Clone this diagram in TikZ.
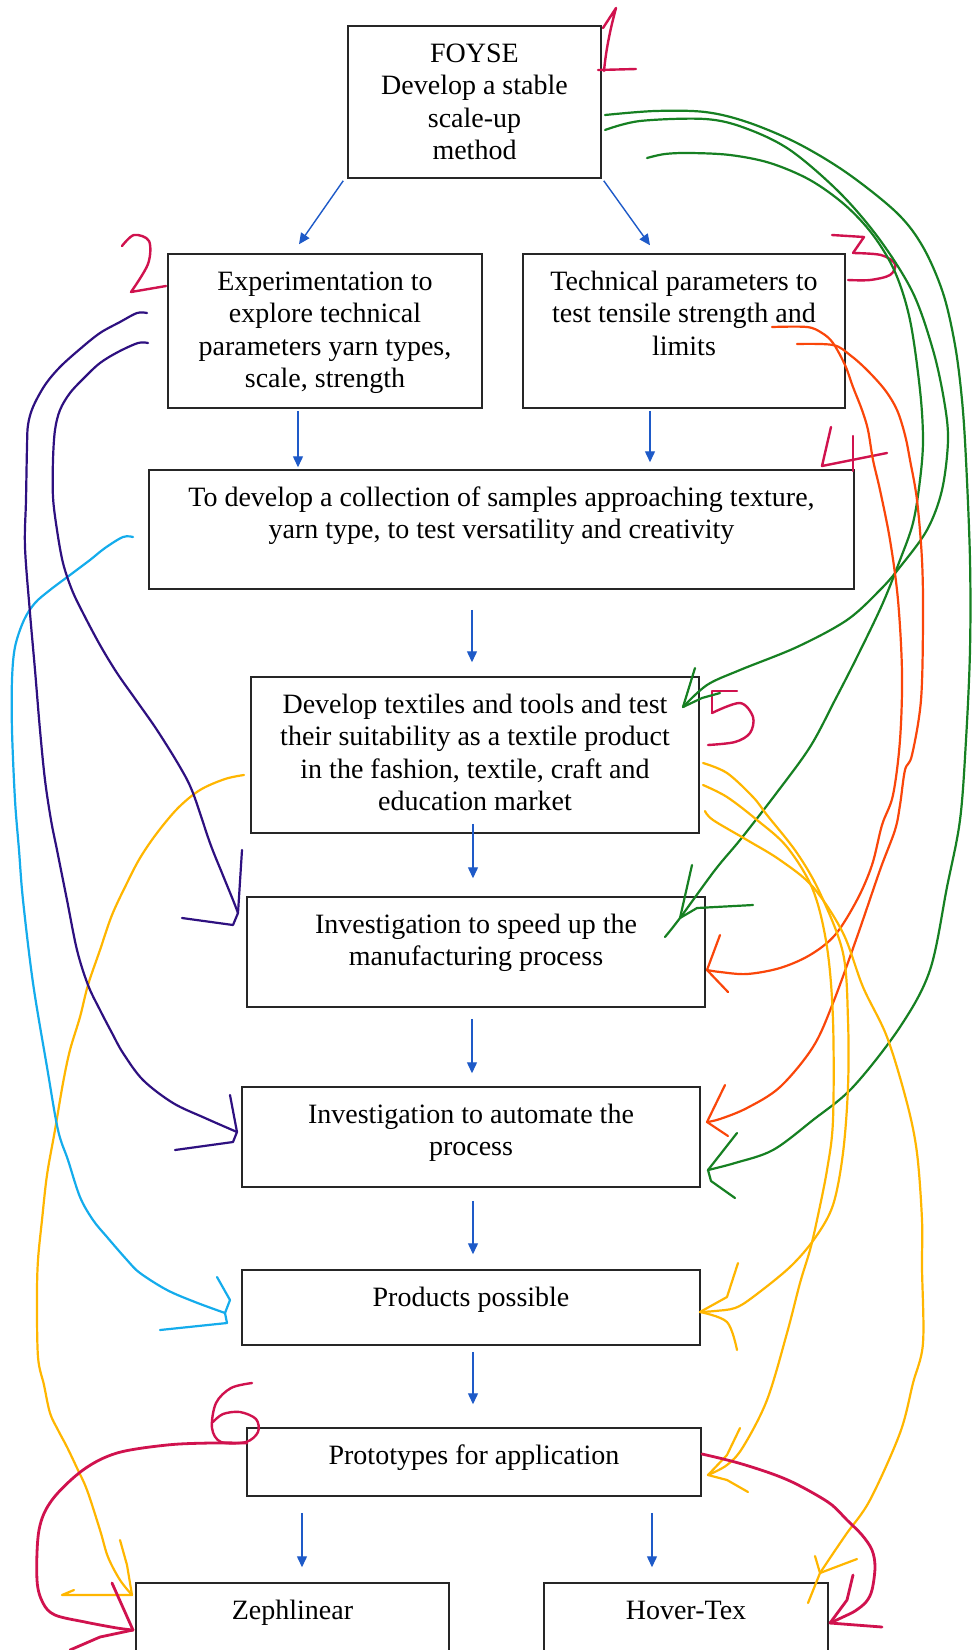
\documentclass[tikz,border=0pt]{standalone}
\usepackage{fontspec}
\setmainfont{Liberation Serif}
\usetikzlibrary{arrows.meta,calc}

\definecolor{flowblue}{RGB}{30,90,200}
\definecolor{inkred}{RGB}{208,18,78}
\definecolor{inkgreen}{RGB}{22,128,34}
\definecolor{inkorange}{RGB}{250,70,10}
\definecolor{inkamber}{RGB}{255,182,0}
\definecolor{inkcyan}{RGB}{20,172,236}
\definecolor{inkviolet}{RGB}{46,16,128}

% box text: width, height, lines (top aligned)
\newcommand{\boxtext}[3]{\parbox[c][#2][t]{#1}{\centering\rule{0pt}{18pt}#3}}

\begin{document}
\begin{tikzpicture}[x=0.5pt,y=-0.5pt,
  box/.style={draw=black!85,line width=0.75pt,inner sep=0pt,
    font=\fontsize{14}{16.25}\selectfont},
  bluearr/.style={draw=flowblue,line width=0.7pt,-{Triangle[length=5.5pt,width=5pt]}},
  hand/.style={line width=1.1pt,line cap=round,line join=round},
  handthick/.style={line width=1.4pt,line cap=round,line join=round},
  curve/.style={smooth,tension=0.55}]

\fill[white] (0,0) rectangle (974,1650);
\clip (0,0) rectangle (974,1650);

% ---------- flow boxes ----------
\node[box] (b1) at (474.5,102) {\boxtext{126.5pt}{76pt}{FOYSE\\Develop a stable\\scale-up\\method}};
\node[box] (b2) at (325,331) {\boxtext{157pt}{77pt}{Experimentation to\\explore technical\\parameters yarn types,\\scale, strength}};
\node[box] (b3) at (684,331) {\boxtext{161pt}{77pt}{Technical parameters to\\test tensile strength and\\limits}};
\node[box] (b4) at (501.5,529.5) {\boxtext{352.5pt}{59.5pt}{To develop a collection of samples approaching texture,\\yarn type, to test versatility and creativity}};
\node[box] (b5) at (475,755) {\boxtext{224pt}{78pt}{Develop textiles and tools and test\\their suitability as a textile product\\in the fashion, textile, craft and\\education market}};
\node[box] (b6) at (476,952) {\boxtext{229pt}{55pt}{Investigation to speed up the\\manufacturing process}};
\node[box] (b7) at (471,1137) {\boxtext{229pt}{50pt}{Investigation to automate the\\process}};
\node[box] (b8) at (471,1307.5) {\boxtext{229pt}{37.5pt}{Products possible}};
\node[box] (b9) at (474,1462) {\boxtext{227pt}{34pt}{Prototypes for application}};
\node[box] (b10) at (292.5,1641.5) {\boxtext{156.5pt}{58.5pt}{Zephlinear}};
\node[box] (b11) at (686,1641.5) {\boxtext{142pt}{58.5pt}{Hover-Tex}};

% ---------- flow arrows ----------
\draw[bluearr] ($(b1.south west)+(-4,2)$) -- ($(b2.north)+(-26,-9)$);
\draw[bluearr] ($(b1.south east)+(2,2)$) -- ($(b3.north)+(-34,-8)$);
\draw[bluearr] ($(b2.south)+(-27,2)$) -- ($(b4.north)+(-203.5,-2)$);
\draw[bluearr] ($(b3.south)+(-34,2)$) -- ($(b4.north)+(148.5,-7)$);
\draw[bluearr] ($(b4.south)+(-29.5,20)$) -- ($(b5.north)+(-3,-14)$);
\draw[bluearr] ($(b5.south)+(-2,-10)$) -- ($(b6.north)+(-3,-18)$);
\draw[bluearr] ($(b6.south)+(-4,11)$) -- ($(b7.north)+(1,-13)$);
\draw[bluearr] ($(b7.south)+(2,13)$) -- ($(b8.north)+(2,-15)$);
\draw[bluearr] ($(b8.south)+(2,6)$) -- ($(b9.north)+(-1,-23)$);
\draw[bluearr] ($(b9.south)+(-172,16)$) -- ($(b10.north)+(9.5,-15)$);
\draw[bluearr] ($(b9.south)+(178,16)$) -- ($(b11.north)+(-34,-15)$);

% ---------- hand-drawn step numbers ----------
\begin{scope}[inkred,hand,line width=1.2pt]
  % 1
  \draw (603,28) -- (616,8) .. controls (610,30) and (606,50) .. (604,71);
  \draw (598,70) -- (636,69);
  % 2
  \draw plot[curve] coordinates {(122,246) (134,235) (149,241) (148,264) (131,292)} -- (166,286);
  % 3
  \draw (832,235) -- (864,237) -- (853,253);
  \draw plot[curve] coordinates {(853,253) (881,255) (895,264) (890,275) (870,280) (848,280)};
  % 4
  \draw (831,427) -- (822,466) -- (887,453);
  \draw (853,436) -- (853,471);
  % 5
  \draw (737,691) -- (712,691) -- (712,713);
  \draw plot[curve] coordinates {(712,713) (740,703) (753,717) (750,733) (735,742) (708,745)};
  % 6
  \draw plot[curve] coordinates {(252,1383) (231,1388) (216,1403) (212,1428) (221,1442) (246,1442) (258,1432) (256,1419) (240,1412) (223,1414) (213,1422)};
\end{scope}

% ---------- green: from the scale-up method ----------
\coordinate (gA0) at (605,115); \coordinate (gA1) at (708,1170);
\coordinate (gB0) at (605,130); \coordinate (gB1) at (683,707);
\coordinate (gC0) at (647,158); \coordinate (gC1) at (680,918);
\begin{scope}[inkgreen,hand]
  \draw plot[curve] coordinates {(gA0) (655,111) (705,112) (747,122) (797,143) (847,173) (897,213) (923,247) (943,293) (955,345) (962,400) (966,460) (970,560) (970,650) (966,740) (960,820) (947,887) (930,970) (900,1027) (853,1087) (813,1120) (773,1150) (735,1163) (gA1)};
  \draw (gA1) -- (737,1133);
  \draw (gA1) -- (711,1181) -- (735,1198);
  \draw plot[curve] coordinates {(gB0) (640,121) (705,119) (745,128) (790,150) (840,193) (880,240) (913,293) (933,350) (944,400) (948,440) (942,490) (927,530) (900,567) (880,590) (847,620) (797,647) (740,670) (707,685) (gB1)};
  \draw (gB1) -- (695,668);
  \draw (gB1) -- (702,698) -- (720,693);
  \draw plot[curve] coordinates {(gC0) (665,154) (690,153) (730,155) (770,163) (810,180) (845,205) (873,235) (895,272) (910,320) (920,390) (923,440) (920,480) (913,523) (900,560) (882,605) (857,657) (835,700) (810,747) (775,795) (740,840) (715,870) (gC1) (665,937)};
  \draw (gC1) -- (692,865);
  \draw (gC1) -- (697,908) -- (753,905);
\end{scope}

% ---------- orange: from the tensile tests ----------
\coordinate (rA0) at (772,327); \coordinate (rA1) at (707,970);
\coordinate (rB0) at (797,344); \coordinate (rB1) at (707,1122);
\begin{scope}[inkorange,hand]
  \draw plot[curve] coordinates {(rA0) (807,327) (822,333) (833,343) (845,365) (853,387) (862,410) (868,430) (873,460) (880,490) (890,540) (898,600) (902,673) (900,740) (893,795) (882,825) (872,865) (857,900) (835,935) (810,955) (780,968) (747,974) (720,972) (rA1)};
  \draw (rA1) -- (720,935);
  \draw (rA1) -- (728,992);
  \draw plot[curve] coordinates {(rB0) (833,345) (850,355) (867,370) (885,390) (897,410) (905,435) (910,460) (917,500) (922,560) (923,620) (921,700) (912,755) (905,770) (900,805) (895,830) (880,870) (857,937) (833,1003) (813,1047) (780,1087) (747,1108) (720,1119) (rB1)};
  \draw (rB1) -- (725,1085);
  \draw (rB1) -- (728,1136);
\end{scope}

% ---------- amber: from the textile products ----------
\coordinate (yA0) at (703,763); \coordinate (yA1) at (700,1312);
\coordinate (yB0) at (703,785); \coordinate (yB1) at (708,1475);
\coordinate (yC0) at (705,811); \coordinate (yC1) at (820,1573);
\coordinate (yD0) at (244,775); \coordinate (yD1) at (132,1595);
\begin{scope}[inkamber,hand]
  \draw plot[curve] coordinates {(yA0) (727,773) (753,797) (767,815) (797,853) (820,893) (843,953) (848,1020) (848,1087) (843,1153) (833,1205) (815,1238) (790,1267) (753,1297) (735,1308) (715,1311) (yA1)};
  \draw (yA1) -- (727,1297) -- (738,1263);
  \draw plot[curve] coordinates {(yA1) (727,1322) (737,1350)};
  \draw plot[curve] coordinates {(yB0) (727,797) (757,820) (787,847) (813,890) (827,947) (833,1020) (833,1120) (827,1170) (817,1220) (810,1250) (800,1283) (787,1333) (767,1400) (743,1447) (727,1465) (yB1)};
  \draw (yB1) -- (727,1455) -- (740,1428);
  \draw (yB1) -- (727,1480) -- (748,1492);
  \draw plot[curve] coordinates {(yC0) (713,820) (747,840) (780,860) (813,887) (843,933) (863,987) (887,1037) (907,1103) (917,1153) (922,1220) (922,1267) (923,1343) (913,1383) (900,1433) (870,1500) (847,1533) (832,1555) (yC1)};
  \draw (yC1) -- (857,1559);
  \draw (815,1556) -- (yC1) -- (808,1603);
  \draw plot[curve] coordinates {(yD0) (225,779) (200,790) (178,808) (157,833) (140,858) (127,883) (112,915) (100,950) (88,985) (80,1017) (70,1050) (63,1083) (55,1130) (47,1175) (42,1220) (38,1260) (37,1297) (38,1357) (44,1385) (50,1413) (58,1430) (67,1447) (77,1468) (87,1490) (100,1530) (108,1557) (120,1580) (yD1)};
  \draw (yD1) -- (127,1565) -- (120,1540);
  \draw (yD1) -- (62,1595) -- (74,1590);
\end{scope}

% ---------- cyan: from the sample collection ----------
\coordinate (cA0) at (133,537); \coordinate (cA1) at (225,1313);
\begin{scope}[inkcyan,hand]
  \draw plot[curve] coordinates {(cA0) (123,537) (105,548) (90,560) (70,575) (50,590) (35,603) (24,620) (15,647) (12,680) (12,730) (15,800) (19,850) (23,900) (33,983) (47,1067) (58,1130) (68,1160) (80,1197) (93,1220) (107,1237) (127,1260) (140,1273) (167,1290) (195,1302) (cA1)};
  \draw (cA1) -- (230,1300) -- (217,1277);
  \draw (cA1) -- (227,1323) -- (160,1330);
\end{scope}

% ---------- violet: from the experimentation ----------
\coordinate (vA0) at (147,313); \coordinate (vA1) at (237,1132);
\coordinate (vB0) at (148,343); \coordinate (vB1) at (238,913);
\begin{scope}[inkviolet,hand]
  \draw plot[curve] coordinates {(vA0) (137,313) (120,322) (100,333) (80,349) (60,367) (45,385) (33,407) (28,425) (27,447) (26,500) (25,547) (30,613) (35,670) (40,730) (45,780) (51,820) (57,850) (67,900) (77,950) (88,985) (100,1010) (112,1033) (123,1053) (143,1080) (173,1103) (205,1118) (vA1)};
  \draw (vA1) -- (230,1095);
  \draw (vA1) -- (233,1142) -- (175,1150);
  \draw plot[curve] coordinates {(vB0) (138,343) (118,352) (100,363) (85,377) (70,393) (60,410) (55,430) (53,460) (53,497) (57,530) (63,563) (72,590) (83,613) (100,645) (117,673) (136,700) (157,730) (180,767) (193,793) (210,843) (222,873) (233,900) (vB1)};
  \draw (vB1) -- (242,850);
  \draw (vB1) -- (233,925) -- (182,918);
\end{scope}

% ---------- crimson: prototypes to products ----------
\coordinate (kA0) at (247,1443); \coordinate (kA1) at (133,1630);
\coordinate (kB0) at (702,1454); \coordinate (kB1) at (830,1623);
\begin{scope}[inkred,handthick]
  \draw plot[curve] coordinates {(kA0) (210,1443) (167,1445) (117,1453) (83,1470) (52,1500) (39,1530) (37,1580) (43,1603) (55,1615) (85,1622) (117,1628) (kA1)};
  \draw (kA1) -- (112,1583);
  \draw (kA1) -- (100,1637) -- (70,1650);
  \draw plot[curve] coordinates {(kB0) (735,1462) (767,1472) (790,1481) (813,1493) (832,1505) (847,1520) (862,1535) (872,1550) (875,1567) (872,1590) (866,1602) (855,1611) (843,1617) (kB1)};
  \draw (kB1) -- (847,1600) -- (853,1575);
  \draw (kB1) -- (882,1627);
\end{scope}

\end{tikzpicture}
\end{document}
